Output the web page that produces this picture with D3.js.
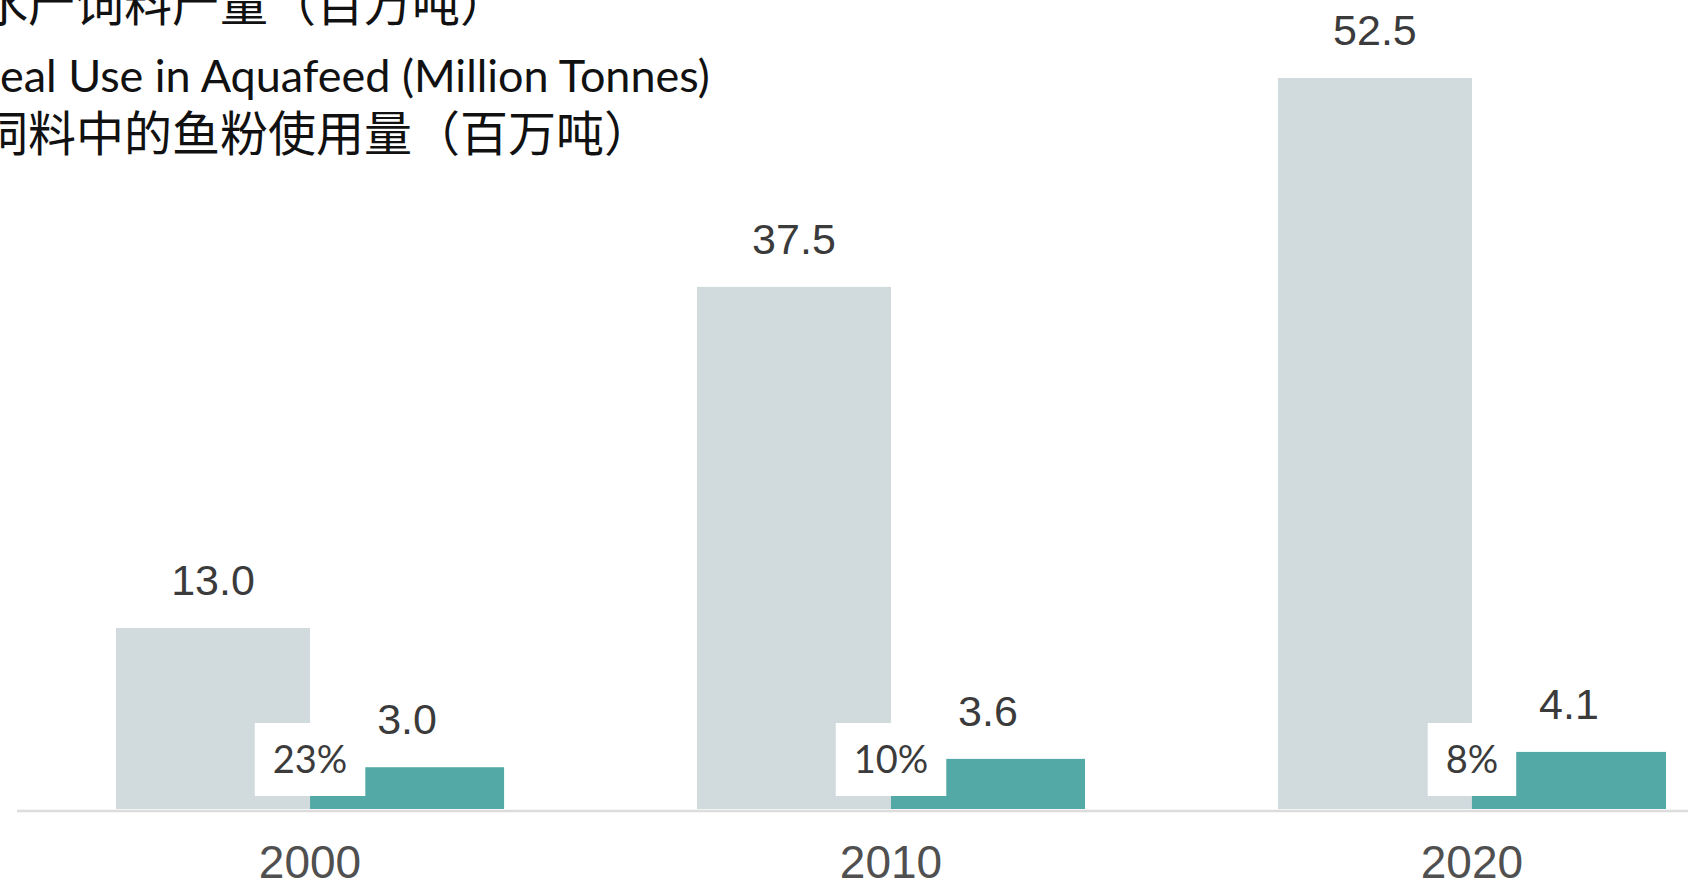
<!DOCTYPE html>
<html>
<head>
<meta charset="utf-8">
<script src="https://cdn.jsdelivr.net/npm/d3@7"></script>
<style>
  html, body { margin: 0; padding: 0; background: #ffffff; overflow: hidden; }
  svg { display: block; }
</style>
</head>
<body>
<svg id="chart" width="1688" height="889"></svg>
<script>
// ---- data ----
const years = ["2000", "2010", "2020"];
const aquafeedProduction = [13.0, 37.5, 52.5];   // million tonnes
const fishmealUse = [3.0, 3.6, 4.1];             // million tonnes
const shareLabels = ["23%", "10%", "8%"];
const legendLines = [
  "水产饲料产量（百万吨）",
  "Fishmeal Use in Aquafeed (Million Tonnes)",
  "饲料中的鱼粉使用量（百万吨）"
];
const seriesKeys = ["prod", "fish"];

// ---- layout ----
const W = 1688, H = 889;
const baseY = 809;
const svg = d3.select("#chart");

const x = d3.scaleBand().domain(years).range([116, 1666]).paddingInner(0.332).paddingOuter(0);
const xs = d3.scaleBand().domain(seriesKeys).range([0, x.bandwidth()]).padding(0);
const y = d3.scaleLinear().domain([0, 52.5]).range([baseY, 78]);

const colors = { prod: "#d1dadd", fish: "#53a9a6" };

const rows = years.map((yr, i) => ({
  year: yr,
  prod: aquafeedProduction[i],
  fish: fishmealUse[i],
  share: shareLabels[i]
}));

// axis line
svg.append("line")
  .attr("x1", 17).attr("x2", W)
  .attr("y1", baseY + 2).attr("y2", baseY + 2)
  .attr("stroke", "#dcdcdc").attr("stroke-width", 2.5);

const groups = svg.selectAll("g.grp").data(rows).join("g")
  .attr("class", "grp")
  .attr("transform", d => `translate(${x(d.year)},0)`);

// bars
groups.selectAll("rect.bar")
  .data(d => seriesKeys.map(k => ({ key: k, value: d[k] })))
  .join("rect")
  .attr("class", "bar")
  .attr("x", d => xs(d.key))
  .attr("width", xs.bandwidth())
  .attr("y", d => y(d.value))
  .attr("height", d => y(0) - y(d.value))
  .attr("fill", d => colors[d.key]);

// value labels
groups.selectAll("text.val")
  .data(d => seriesKeys.map(k => ({ key: k, value: d[k] })))
  .join("text")
  .attr("class", "val")
  .attr("x", d => xs(d.key) + xs.bandwidth() / 2)
  .attr("y", d => y(d.value) - 33)
  .attr("text-anchor", "middle")
  .attr("font-family", "'Liberation Sans', Arial, sans-serif")
  .attr("font-size", 43)
  .attr("fill", "#3b3b3b")
  .text(d => d3.format(".1f")(d.value));

// share label boxes
groups.each(function(d) {
  const g = d3.select(this);
  const cx = x.bandwidth() / 2;
  const boxH = 73;
  const boxBottom = y(0) - 13;
  const rect = g.append("rect").attr("fill", "#ffffff");
  const t = g.append("text")
    .attr("x", cx)
    .attr("y", boxBottom - boxH / 2)
    .attr("dy", "0.36em")
    .attr("text-anchor", "middle")
    .attr("font-family", "Lato, 'Open Sans', sans-serif")
    .attr("font-size", 38)
    .attr("fill", "#3b3b3b")
    .text(d.share);
  const bb = t.node().getBBox();
  rect.attr("x", bb.x - 18).attr("width", bb.width + 36)
    .attr("y", boxBottom - boxH).attr("height", boxH);
});

// year labels
svg.selectAll("text.year").data(years).join("text")
  .attr("class", "year")
  .attr("x", d => x(d) + x.bandwidth() / 2)
  .attr("y", 878)
  .attr("text-anchor", "middle")
  .attr("font-family", "'Liberation Sans', Arial, sans-serif")
  .attr("font-size", 46)
  .attr("fill", "#505050")
  .text(d => d);

// legend text (partially cut off at the left/top edge)
svg.append("text")
  .attr("x", -20).attr("y", 21)
  .attr("font-family", "'Noto Sans CJK SC', sans-serif")
  .attr("font-size", 48)
  .attr("fill", "#111")
  .text(legendLines[0]);

// English line: size it so the visible part "eal Use ... Tonnes)" spans 0..710
const enFont = "Lato, 'Open Sans', sans-serif";
const splitAt = legendLines[1].indexOf("eal Use");
const probe = svg.append("text").attr("font-family", enFont).attr("font-size", 44)
  .text(legendLines[1].slice(splitAt));
const visW = probe.node().getComputedTextLength();
const enSize = 44 * 710 / visW;
probe.attr("font-size", enSize).text(legendLines[1].slice(0, splitAt));
const hiddenW = probe.node().getComputedTextLength();
probe.remove();

svg.append("text")
  .attr("x", -hiddenW).attr("y", 92)
  .attr("font-family", enFont)
  .attr("font-size", enSize)
  .attr("fill", "#111")
  .text(legendLines[1]);

svg.append("text")
  .attr("x", -20).attr("y", 151)
  .attr("font-family", "'Noto Sans CJK SC', sans-serif")
  .attr("font-size", 48)
  .attr("fill", "#111")
  .text(legendLines[2]);
</script>
</body>
</html>
